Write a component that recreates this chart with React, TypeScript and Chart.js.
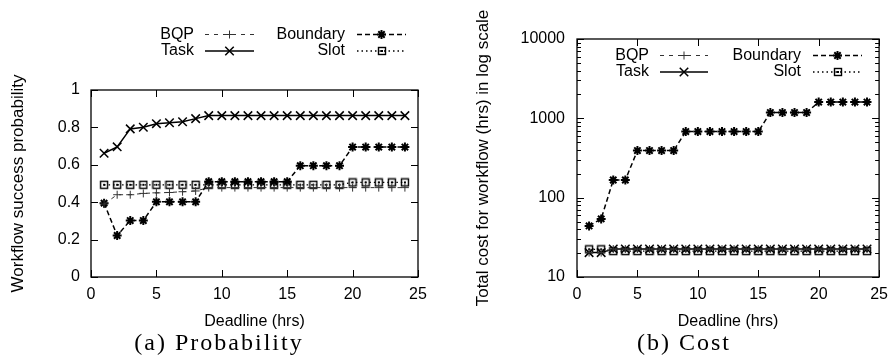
import React, { useEffect, useRef } from 'react';
import { Chart, registerables } from 'chart.js';

Chart.register(...registerables);

// ---------- data ----------
const deadlines = [1, 2, 3, 4, 5, 6, 7, 8, 9, 10, 11, 12, 13, 14, 15, 16, 17, 18, 19, 20, 21, 22, 23, 24];
const xTicks = [0, 5, 10, 15, 20, 25];
const probTicks = [0, 0.2, 0.4, 0.6, 0.8, 1];
const costTicks = [10, 100, 1000, 10000];

const probBQP = [0.39, 0.44, 0.44, 0.447, 0.45, 0.452, 0.456, 0.46, 0.478, 0.478, 0.478, 0.478, 0.478, 0.478, 0.478, 0.478, 0.478, 0.478, 0.478, 0.478, 0.478, 0.478, 0.478, 0.478];
const probTask = [0.662, 0.696, 0.792, 0.801, 0.82, 0.825, 0.83, 0.847, 0.863, 0.863, 0.863, 0.863, 0.863, 0.863, 0.863, 0.863, 0.863, 0.863, 0.863, 0.863, 0.863, 0.863, 0.863, 0.863];
const probBoundary = [0.395, 0.222, 0.302, 0.302, 0.402, 0.402, 0.402, 0.402, 0.51, 0.51, 0.51, 0.51, 0.51, 0.51, 0.51, 0.595, 0.595, 0.595, 0.595, 0.695, 0.695, 0.695, 0.695, 0.695];
const probSlot = [0.493, 0.493, 0.493, 0.493, 0.493, 0.493, 0.493, 0.493, 0.493, 0.493, 0.493, 0.493, 0.493, 0.493, 0.493, 0.493, 0.493, 0.493, 0.493, 0.506, 0.506, 0.506, 0.506, 0.506];

const costBQP = [20.3, 20.3, 22.5, 22.5, 22.5, 22.5, 22.5, 22.5, 22.5, 22.5, 22.5, 22.5, 22.5, 22.5, 22.5, 22.5, 22.5, 22.5, 22.5, 22.5, 22.5, 22.5, 22.5, 22.5];
const costTask = [20.3, 20.3, 22.5, 22.5, 22.5, 22.5, 22.5, 22.5, 22.5, 22.5, 22.5, 22.5, 22.5, 22.5, 22.5, 22.5, 22.5, 22.5, 22.5, 22.5, 22.5, 22.5, 22.5, 22.5];
const costBoundary = [44, 54, 167, 167, 392, 392, 392, 392, 681, 681, 681, 681, 681, 681, 681, 1183, 1183, 1183, 1183, 1603, 1603, 1603, 1603, 1603];
const costSlot = [22.3, 22.3, 21.2, 21.2, 21.2, 21.2, 21.2, 21.2, 21.2, 21.2, 21.2, 21.2, 21.2, 21.2, 21.2, 21.2, 21.2, 21.2, 21.2, 21.2, 21.2, 21.2, 21.2, 21.2];

const seriesNames = ['BQP', 'Task', 'Boundary', 'Slot'];

// ---------- styles ----------
const SANS = "'Liberation Sans', Arial, Helvetica, sans-serif";
const SERIF = "'Liberation Serif', 'Times New Roman', serif";

type Style = { dash: number[]; width: number; color: string; marker: string; r: number; mw: number };
const styles: Record<string, Style> = {
  BQP: { dash: [4, 5], width: 1, color: '#333', marker: 'cross', r: 4, mw: 1 },
  Task: { dash: [], width: 1.5, color: '#000', marker: 'crossRot', r: 6, mw: 1.5 },
  Boundary: { dash: [5, 3], width: 1.5, color: '#000', marker: 'star', r: 4.5, mw: 2 },
  Slot: { dash: [1.5, 3], width: 1.3, color: '#000', marker: 'square', r: 4.5, mw: 1.4 },
};

function makeSquare(): HTMLCanvasElement {
  const c = document.createElement('canvas');
  c.width = 10;
  c.height = 10;
  const g = c.getContext('2d')!;
  g.strokeStyle = '#000';
  g.lineWidth = 1.4;
  g.strokeRect(1.5, 1.5, 7, 7);
  g.fillStyle = '#000';
  g.fillRect(4, 4, 2, 2);
  return c;
}

function drawMarker(ctx: CanvasRenderingContext2D, st: Style, x: number, y: number, sq: HTMLCanvasElement) {
  ctx.save();
  ctx.setLineDash([]);
  ctx.strokeStyle = st.color;
  ctx.lineWidth = st.mw;
  if (st.marker === 'square') {
    ctx.drawImage(sq, Math.round(x - 5), Math.round(y - 5));
    ctx.restore();
    return;
  }
  const r = st.r;
  const d = r * Math.SQRT1_2;
  ctx.beginPath();
  if (st.marker === 'cross' || st.marker === 'star') {
    ctx.moveTo(x - r, y);
    ctx.lineTo(x + r, y);
    ctx.moveTo(x, y - r);
    ctx.lineTo(x, y + r);
  }
  if (st.marker === 'crossRot' || st.marker === 'star') {
    ctx.moveTo(x - d, y - d);
    ctx.lineTo(x + d, y + d);
    ctx.moveTo(x - d, y + d);
    ctx.lineTo(x + d, y - d);
  }
  ctx.stroke();
  ctx.restore();
}

type LegendPos = { name: string; textRight: number; y: number; x0: number; x1: number };
type Layout = {
  padding: { top: number; right: number; bottom: number; left: number };
  yWidth: number;
  yTitle: string;
  yTitlePad: number;
  yTickPad: number;
  log: boolean;
  legend: LegendPos[];
  subtitle: string;
  subX: number;
};

function buildChart(canvas: HTMLCanvasElement, values: number[][], L: Layout) {
  const sq = makeSquare();
  const datasets = seriesNames.map((name, i) => {
    const st = styles[name];
    return {
      label: name,
      data: values[i],
      borderColor: st.color,
      borderWidth: st.width,
      borderDash: st.dash,
      backgroundColor: 'transparent',
      pointStyle: st.marker === 'square' ? sq : st.marker,
      pointRadius: st.r,
      pointHoverRadius: st.r,
      pointBorderColor: st.color,
      pointBackgroundColor: 'transparent',
      pointBorderWidth: st.mw,
      tension: 0,
      fill: false,
    };
  });

  const framePlugin = {
    id: 'frame',
    afterDraw(chart: any) {
      const ctx: CanvasRenderingContext2D = chart.ctx;
      const ca = chart.chartArea;
      const xs = chart.scales.x;
      const ys = chart.scales.y;
      ctx.save();
      ctx.setLineDash([]);
      ctx.strokeStyle = '#000';
      ctx.lineWidth = 1.3;
      ctx.strokeRect(ca.left, ca.top, ca.right - ca.left, ca.bottom - ca.top);
      ctx.lineWidth = 1;
      ctx.beginPath();
      for (const t of xs.ticks) {
        const p = Math.round(xs.getPixelForValue(t.value)) + 0.5;
        ctx.moveTo(p, ca.bottom);
        ctx.lineTo(p, ca.bottom - 7);
        ctx.moveTo(p, ca.top);
        ctx.lineTo(p, ca.top + 7);
      }
      for (const t of ys.ticks) {
        const p = Math.round(ys.getPixelForValue(t.value)) + 0.5;
        ctx.moveTo(ca.left, p);
        ctx.lineTo(ca.left + 7, p);
        ctx.moveTo(ca.right, p);
        ctx.lineTo(ca.right - 7, p);
      }
      if (L.log) {
        for (let dec = 10; dec < 10000; dec *= 10) {
          for (let k = 2; k <= 9; k++) {
            const p = Math.round(ys.getPixelForValue(dec * k)) + 0.5;
            ctx.moveTo(ca.left, p);
            ctx.lineTo(ca.left + 4, p);
            ctx.moveTo(ca.right, p);
            ctx.lineTo(ca.right - 4, p);
          }
        }
      }
      ctx.stroke();

      // legend (gnuplot style)
      ctx.font = `16px ${SANS}`;
      ctx.fillStyle = '#000';
      ctx.textAlign = 'right';
      ctx.textBaseline = 'middle';
      for (const it of L.legend) {
        const st = styles[it.name];
        ctx.fillText(it.name, it.textRight, it.y);
        ctx.save();
        ctx.strokeStyle = st.color;
        ctx.lineWidth = st.width;
        ctx.setLineDash(st.dash);
        ctx.beginPath();
        ctx.moveTo(it.x0, it.y);
        ctx.lineTo(it.x1, it.y);
        ctx.stroke();
        ctx.restore();
        drawMarker(ctx, st, (it.x0 + it.x1) / 2, it.y, sq);
      }

      // subtitle
      ctx.font = `24px ${SERIF}`;
      (ctx as any).letterSpacing = '2px';
      ctx.textAlign = 'center';
      ctx.textBaseline = 'alphabetic';
      ctx.fillText(L.subtitle, L.subX, 350);
      (ctx as any).letterSpacing = '0px';
      ctx.restore();
    },
  };

  return new Chart(canvas, {
    type: 'line',
    data: { labels: deadlines, datasets: datasets as any },
    options: {
      responsive: false,
      animation: false,
      events: [],
      layout: { padding: L.padding },
      plugins: { legend: { display: false }, tooltip: { enabled: false } },
      scales: {
        x: {
          type: 'linear',
          min: 0,
          max: 25,
          grid: { display: false, drawTicks: false },
          border: { display: false },
          afterBuildTicks: (s: any) => {
            s.ticks = xTicks.map((v) => ({ value: v }));
          },
          afterFit: (s: any) => {
            s.height = 83;
          },
          ticks: {
            color: '#000',
            padding: 8,
            maxRotation: 0,
            font: { family: SANS, size: 16 },
            callback: (v: any) => String(v),
          },
          title: {
            display: true,
            text: 'Deadline (hrs)',
            color: '#000',
            font: { family: SANS, size: 16 },
            padding: { top: 0, bottom: 29 },
          },
        },
        y: {
          type: L.log ? 'logarithmic' : 'linear',
          min: L.log ? 10 : 0,
          max: L.log ? 10000 : 1,
          grid: { display: false, drawTicks: false },
          border: { display: false },
          afterBuildTicks: (s: any) => {
            s.ticks = (L.log ? costTicks : probTicks).map((v) => ({ value: v }));
          },
          afterFit: (s: any) => {
            s.width = L.yWidth;
          },
          ticks: {
            color: '#000',
            padding: L.yTickPad,
            font: { family: SANS, size: 16 },
            callback: (v: any) => String(Math.round(Number(v) * 10) / 10),
          },
          title: {
            display: true,
            text: L.yTitle,
            color: '#000',
            font: { family: SANS, size: 17 },
            padding: { top: L.yTitlePad, bottom: 0 },
          },
        } as any,
      },
    },
    plugins: [framePlugin],
  });
}

const leftLayout: Layout = {
  padding: { top: 90, right: 30, bottom: 0, left: 0 },
  yWidth: 91,
  yTitle: 'Workflow success probability',
  yTitlePad: 8,
  yTickPad: 11,
  log: false,
  legend: [
    { name: 'BQP', textRight: 194, y: 34.5, x0: 205, x1: 254 },
    { name: 'Task', textRight: 194, y: 51, x0: 205, x1: 254 },
    { name: 'Boundary', textRight: 345, y: 34.5, x0: 357, x1: 406 },
    { name: 'Slot', textRight: 345, y: 51, x0: 357, x1: 406 },
  ],
  subtitle: '(a) Probability',
  subX: 219,
};

const rightLayout: Layout = {
  padding: { top: 39, right: 13, bottom: 0, left: 0 },
  yWidth: 129,
  yTitle: 'Total cost for workflow (hrs) in log scale',
  yTitlePad: 25,
  yTickPad: 12,
  log: true,
  legend: [
    { name: 'BQP', textRight: 201, y: 55.5, x0: 212, x1: 260 },
    { name: 'Task', textRight: 201, y: 72, x0: 212, x1: 260 },
    { name: 'Boundary', textRight: 353, y: 55.5, x0: 365, x1: 414 },
    { name: 'Slot', textRight: 353, y: 72, x0: 365, x1: 414 },
  ],
  subtitle: '(b) Cost',
  subX: 236,
};

function Panel({ values, layout, left }: { values: number[][]; layout: Layout; left: number }) {
  const ref = useRef<HTMLCanvasElement>(null);
  useEffect(() => {
    if (!ref.current) return;
    const ch = buildChart(ref.current, values, layout);
    return () => ch.destroy();
  }, []);
  return (
    <div style={{ position: 'absolute', left, top: 0, width: 448, height: 360 }}>
      <canvas ref={ref} width={448} height={360} style={{ display: 'block' }} />
    </div>
  );
}

export default function App() {
  return (
    <div style={{ position: 'fixed', left: 0, top: 0, width: 896, height: 360, background: '#fff' }}>
      <Panel values={[probBQP, probTask, probBoundary, probSlot]} layout={leftLayout} left={0} />
      <Panel values={[costBQP, costTask, costBoundary, costSlot]} layout={rightLayout} left={448} />
    </div>
  );
}
